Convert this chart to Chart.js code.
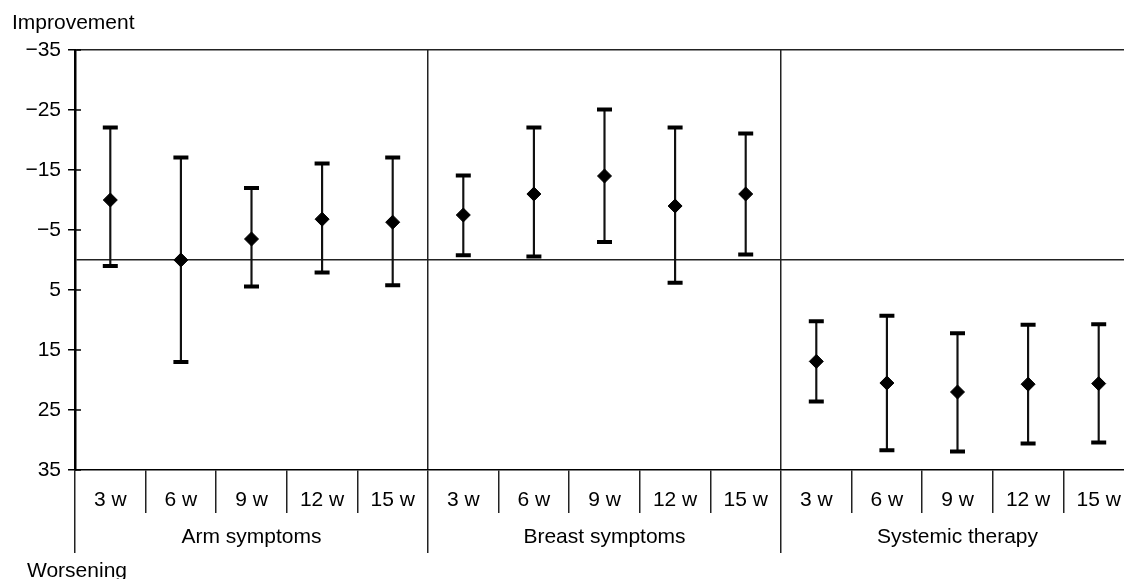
<!DOCTYPE html>
<html lang="en">
<head>
<meta charset="UTF-8">
<title>Improvement vs worsening by week</title>
<script src="https://cdn.jsdelivr.net/npm/chart.js@4.4.0/dist/chart.umd.min.js"></script>
<style>
  html, body { margin: 0; padding: 0; background: #fff; overflow: hidden; }
  #clip { width: 1124px; height: 579px; overflow: hidden; }
  canvas { display: block; }
</style>
</head>
<body>
<!-- the plot runs on past the right edge of the picture, as in the source -->
<div id="clip"><canvas id="chart" width="1134" height="579"></canvas></div>
<script>
const groups = ['Arm symptoms', 'Breast symptoms', 'Systemic therapy'];
const weeks = ['3 w', '6 w', '9 w', '12 w', '15 w'];
const yTicks = [-35, -25, -15, -5, 0, 5, 15, 25, 35];

// mean change, negative = improvement
const means  = [-10, 0, -3.5, -6.8, -6.3,   -7.5, -11, -14, -9, -11,   16.9, 20.5, 22, 20.7, 20.6];
const ciLow  = [-22.1, -17.1, -12, -16.1, -17.1,   -14.1, -22.1, -25.1, -22.1, -21.1,   10.2, 9.3, 12.2, 10.8, 10.7];
const ciHigh = [1, 17, 4.4, 2.1, 4.2,   -0.8, -0.6, -3, 3.8, -0.9,   23.6, 31.7, 31.9, 30.6, 30.4];

const labels = [];
groups.forEach(() => weeks.forEach(w => labels.push(w)));

const FONT = '"Liberation Sans", Arial, Helvetica, sans-serif';
Chart.defaults.font.family = FONT;
Chart.defaults.font.size = 21;
Chart.defaults.color = '#000';

const extras = {
  id: 'extras',
  afterDraw(chart) {
    const ctx = chart.ctx;
    const y = chart.scales.y;
    const left = chart.chartArea.left;
    ctx.save();
    ctx.strokeStyle = '#000';
    ctx.lineWidth = 1.5;
    yTicks.forEach(v => {
      if (v === 0) return;
      const py = y.getPixelForValue(v);
      ctx.beginPath();
      ctx.moveTo(left, py);
      ctx.lineTo(left + 6, py);
      ctx.stroke();
    });
    ctx.fillStyle = '#000';
    ctx.font = '21px ' + FONT;
    ctx.textBaseline = 'alphabetic';
    ctx.fillText('Improvement', 12, 29);
    ctx.fillText('Worsening', 27, 577);
    ctx.restore();
  }
};

// keep horizontal axes from reserving room for edge labels
const noSidePad = axis => { axis.paddingLeft = 0; axis.paddingRight = 0; };

const ctx = document.getElementById('chart').getContext('2d');
const chart = new Chart(ctx, {
  type: 'bar',
  data: {
    labels: labels,
    datasets: [
      {
        type: 'line',
        data: means,
        showLine: false,
        pointStyle: 'rectRot',
        pointRadius: 7,
        pointBackgroundColor: '#000',
        pointBorderColor: '#000',
        pointBorderWidth: 1,
        order: 0
      },
      {
        type: 'line',
        data: ciLow,
        showLine: false,
        pointStyle: 'line',
        pointRadius: 7.5,
        pointBorderColor: '#000',
        pointBorderWidth: 4,
        order: 1
      },
      {
        type: 'line',
        data: ciHigh,
        showLine: false,
        pointStyle: 'line',
        pointRadius: 7.5,
        pointBorderColor: '#000',
        pointBorderWidth: 4,
        order: 1
      },
      {
        type: 'bar',
        data: ciLow.map((v, i) => [v, ciHigh[i]]),
        backgroundColor: '#111',
        barThickness: 1.5,
        order: 2
      }
    ]
  },
  options: {
    responsive: false,
    animation: false,
    layout: { autoPadding: false, padding: { top: 50, left: 0, right: 0, bottom: 26 } },
    plugins: {
      legend: { display: false },
      tooltip: { enabled: false }
    },
    scales: {
      y: {
        min: -35,
        max: 35,
        reverse: true,
        afterBuildTicks: axis => { axis.ticks = yTicks.map(v => ({ value: v })); },
        afterFit: axis => { axis.width = 75; },
        ticks: {
          padding: 7,
          callback: v => v === 0 ? '' : (v < 0 ? '\u2212' + Math.abs(v) : String(v))
        },
        grid: {
          drawOnChartArea: true,
          tickLength: 7,
          lineWidth: 1.5,
          color: c => (c.tick && (c.tick.value === 0 || c.tick.value === -35)) ? '#222' : 'rgba(0,0,0,0)',
          tickColor: c => (c.tick && c.tick.value === 0) ? 'rgba(0,0,0,0)' : '#000',
          tickWidth: 1.5
        },
        border: { display: true, color: '#000', width: 2.5 }
      },
      x: {
        position: 'bottom',
        offset: true,
        afterFit: axis => { axis.height = 43; noSidePad(axis); },
        ticks: { autoSkip: false, maxRotation: 0, padding: -25 },
        grid: {
          offset: true,
          drawOnChartArea: true,
          tickLength: 43,
          lineWidth: 1.5,
          color: c => (c.index === 5 || c.index === 10) ? '#222' : 'rgba(0,0,0,0)',
          tickColor: '#222',
          tickWidth: 1.5
        },
        border: { display: true, color: '#000', width: 1.5 }
      },
      groupAxis: {
        type: 'category',
        position: 'bottom',
        labels: groups,
        offset: true,
        afterFit: axis => { axis.height = 40; noSidePad(axis); },
        ticks: { autoSkip: false, maxRotation: 0, padding: -28 },
        grid: {
          offset: true,
          drawOnChartArea: false,
          tickLength: 40,
          lineWidth: 1.5,
          tickColor: '#222',
          tickWidth: 1.5
        },
        border: { display: false }
      }
    }
  },
  plugins: [extras]
});
</script>
</body>
</html>
